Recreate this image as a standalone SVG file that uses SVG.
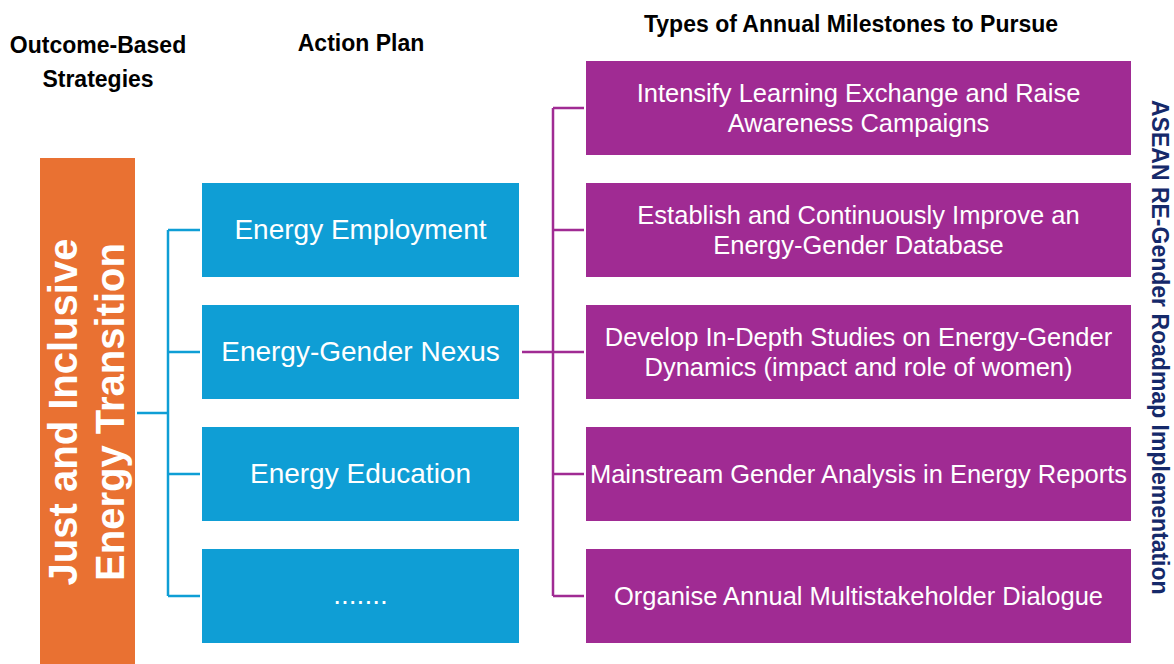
<svg xmlns="http://www.w3.org/2000/svg" width="1174" height="664" viewBox="0 0 1174 664">
  <style>
    .hdr { font-family: "Liberation Sans", Arial, sans-serif; font-weight: bold; font-size: 23px; fill: #000; text-anchor: middle; }
    .blue { fill: #0F9ED5; }
    .purple { fill: #A02B93; }
    .btxt { font-family: "Liberation Sans", Arial, sans-serif; font-size: 28px; fill: #fff; text-anchor: middle; }
    .ptxt { font-family: "Liberation Sans", Arial, sans-serif; font-size: 25.5px; fill: #fff; text-anchor: middle; }
    .otxt { font-family: "Liberation Sans", Arial, sans-serif; font-weight: bold; font-size: 40px; fill: #fff; text-anchor: middle; }
    .side { font-family: "Liberation Sans", Arial, sans-serif; font-weight: bold; font-size: 23px; fill: #15296A; }
    .cb { stroke: #0F9ED5; stroke-width: 2.5; fill: none; }
    .cp { stroke: #A02B93; stroke-width: 2.5; fill: none; }
  </style>
  <rect width="1174" height="664" fill="#fff"/>

  <!-- column headings -->
  <g id="headings">
    <text class="hdr" x="98" y="53">Outcome-Based</text>
    <text class="hdr" x="98" y="87">Strategies</text>
    <text class="hdr" x="361" y="51">Action Plan</text>
    <text class="hdr" x="851" y="32">Types of Annual Milestones to Pursue</text>
  </g>

  <!-- connectors -->
  <g id="connectors">
    <path class="cb" d="M137 413 H168 M168 230 V596 M168 230 H200 M168 352 H200 M168 474 H200 M168 596 H200"/>
    <path class="cp" d="M522 352 H553 M553 108 V596 M553 108 H584 M553 230 H584 M553 352 H584 M553 474 H584 M553 596 H584"/>
  </g>

  <!-- outcome strategy -->
  <g id="strategy">
    <rect x="40" y="158" width="95" height="506" fill="#E97132"/>
    <text class="otxt" transform="translate(77 412) rotate(-90)">Just and Inclusive</text>
    <text class="otxt" transform="translate(124 412) rotate(-90)">Energy Transition</text>
  </g>

  <!-- action plan nodes -->
  <g id="ap-employment">
    <rect class="blue" x="202" y="183" width="317" height="94"/>
    <text class="btxt" x="360.5" y="239">Energy Employment</text>
  </g>
  <g id="ap-nexus">
    <rect class="blue" x="202" y="305" width="317" height="94"/>
    <text class="btxt" x="360.5" y="361">Energy-Gender Nexus</text>
  </g>
  <g id="ap-education">
    <rect class="blue" x="202" y="427" width="317" height="94"/>
    <text class="btxt" x="360.5" y="483">Energy Education</text>
  </g>
  <g id="ap-more">
    <rect class="blue" x="202" y="549" width="317" height="94"/>
    <text class="btxt" x="360.5" y="604">.......</text>
  </g>

  <!-- milestone nodes -->
  <g id="ms-learning">
    <rect class="purple" x="586" y="61" width="545" height="94"/>
    <text class="ptxt" x="858.5" y="102">Intensify Learning Exchange and Raise</text>
    <text class="ptxt" x="858.5" y="132">Awareness Campaigns</text>
  </g>
  <g id="ms-database">
    <rect class="purple" x="586" y="183" width="545" height="94"/>
    <text class="ptxt" x="858.5" y="224">Establish and Continuously Improve an</text>
    <text class="ptxt" x="858.5" y="254">Energy-Gender Database</text>
  </g>
  <g id="ms-studies">
    <rect class="purple" x="586" y="305" width="545" height="94"/>
    <text class="ptxt" x="858.5" y="346">Develop In-Depth Studies on Energy-Gender</text>
    <text class="ptxt" x="858.5" y="376">Dynamics (impact and role of women)</text>
  </g>
  <g id="ms-reports">
    <rect class="purple" x="586" y="427" width="545" height="94"/>
    <text class="ptxt" x="858.5" y="483">Mainstream Gender Analysis in Energy Reports</text>
  </g>
  <g id="ms-dialogue">
    <rect class="purple" x="586" y="549" width="545" height="94"/>
    <text class="ptxt" x="858.5" y="605">Organise Annual Multistakeholder Dialogue</text>
  </g>

  <!-- side caption -->
  <g id="side-caption">
    <text class="side" transform="translate(1152 100) rotate(90)">ASEAN RE-Gender Roadmap Implementation</text>
  </g>
</svg>
